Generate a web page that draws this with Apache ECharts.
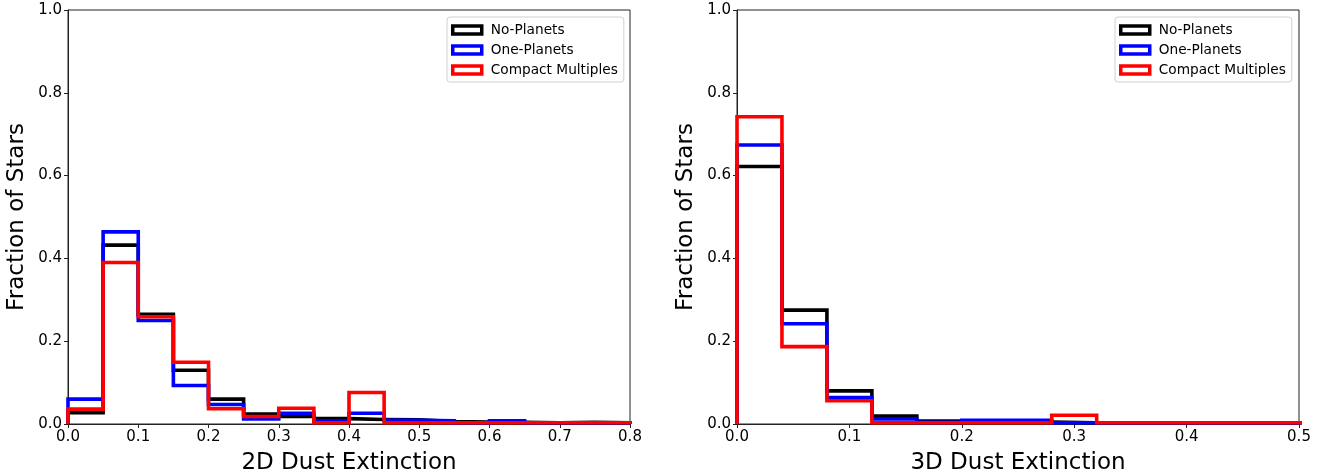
<!DOCTYPE html>
<html>
<head>
<meta charset="utf-8">
<script src="https://cdn.jsdelivr.net/npm/echarts@6/dist/echarts.min.js"></script>
<style>
html,body{margin:0;padding:0;background:#fff;}
#chart{width:1323px;height:474px;}
</style>
</head>
<body>
<div id="chart"></div>
<script>
// ---- Data ----
var seriesNames = ['No-Planets', 'One-Planets', 'Compact Multiples'];
var seriesColors = ['#000000', '#0000ff', '#ff0000'];

// 2D dust extinction: bin edges and fractions
var edges2D = [0, 0.05, 0.1, 0.15, 0.2, 0.25, 0.3, 0.35, 0.4, 0.45, 0.5, 0.55, 0.6, 0.65, 0.7, 0.75, 0.8];
var noPlanets2D = [0.027, 0.432, 0.265, 0.130, 0.060, 0.024, 0.018, 0.013, 0.011, 0.010, 0.006, 0.005, 0.004, 0.003, 0.004, 0.003];
var onePlanet2D = [0.060, 0.464, 0.250, 0.093, 0.047, 0.012, 0.026, 0.007, 0.026, 0.009, 0.008, 0.003, 0.008, 0.003, 0.003, 0.003];
var compact2D   = [0.036, 0.390, 0.259, 0.149, 0.037, 0.018, 0.038, 0.003, 0.076, 0.003, 0.003, 0.003, 0.003, 0.003, 0.003, 0.003];

// 3D dust extinction: bin edges and fractions
var edges3D = [0, 0.04, 0.08, 0.12, 0.16, 0.2, 0.24, 0.28, 0.32, 0.36, 0.4, 0.44, 0.48, 0.52];
var noPlanets3D = [0.622, 0.275, 0.080, 0.019, 0.007, 0.005, 0.005, 0.003, 0.003, 0.003, 0.003, 0.003, 0.003];
var onePlanet3D = [0.674, 0.242, 0.064, 0.012, 0.004, 0.009, 0.009, 0.003, 0.003, 0.003, 0.003, 0.003, 0.003];
var compact3D   = [0.742, 0.187, 0.056, 0.003, 0.003, 0.003, 0.003, 0.021, 0.003, 0.003, 0.003, 0.003, 0.003];

var xTicks2D = [0, 0.1, 0.2, 0.3, 0.4, 0.5, 0.6, 0.7, 0.8];
var xTicks3D = [0, 0.1, 0.2, 0.3, 0.4, 0.5];
var yTicks = [0, 0.2, 0.4, 0.6, 0.8, 1.0];

// ---- Build step outlines (matplotlib histtype='step') ----
function stepOutline(edges, vals) {
  var pts = [[edges[0], 0]];
  for (var i = 0; i < vals.length; i++) {
    pts.push([edges[i], vals[i]]);
    pts.push([edges[i + 1], vals[i]]);
  }
  pts.push([edges[vals.length], 0]);
  return pts;
}

var FONT = 'DejaVu Sans';
var fmt = function (v) { return v.toFixed(1); };

function xAxisCfg(idx, ticks, name) {
  return {
    type: 'value', gridIndex: idx, min: ticks[0], max: ticks[ticks.length - 1], interval: 0.1,
    name: name, nameLocation: 'middle', nameGap: 28,
    nameTextStyle: { fontSize: 23, fontFamily: FONT, color: '#000' },
    axisLine: { show: true, onZero: false, lineStyle: { color: '#222', width: 1 } },
    axisTick: { show: true, inside: false, length: 4, lineStyle: { color: '#222' } },
    axisLabel: { show: true, margin: 6, fontSize: 15, fontFamily: FONT, color: '#000', formatter: fmt },
    splitLine: { show: false }
  };
}
function yAxisCfg(idx) {
  return {
    type: 'value', gridIndex: idx, min: yTicks[0], max: yTicks[yTicks.length - 1], interval: 0.2,
    name: 'Fraction of Stars', nameLocation: 'middle', nameGap: 39,
    nameTextStyle: { fontSize: 23, fontFamily: FONT, color: '#000' },
    axisLine: { show: true, onZero: false, lineStyle: { color: '#222', width: 1 } },
    axisTick: { show: true, inside: false, length: 4, lineStyle: { color: '#222' } },
    axisLabel: { show: true, margin: 6, fontSize: 15, fontFamily: FONT, color: '#000', formatter: fmt },
    splitLine: { show: false }
  };
}

function legendCfg(left) {
  return {
    orient: 'vertical', left: left, top: 17,
    padding: [6, 6, 5, 4], itemGap: 6, itemWidth: 29, itemHeight: 8, icon: 'rect',
    backgroundColor: '#fff', borderColor: '#d0d0d0', borderWidth: 1, borderRadius: 3,
    textStyle: { fontSize: 13.7, fontFamily: FONT, color: '#000', padding: [0, 0, 0, 4] },
    data: seriesNames.map(function (n, i) {
      return { name: n, itemStyle: { color: '#fff', borderColor: seriesColors[i], borderWidth: 3.5 } };
    })
  };
}

var data2D = [noPlanets2D, onePlanet2D, compact2D];
var data3D = [noPlanets3D, onePlanet3D, compact3D];
var series = [];
[[edges2D, data2D, 0], [edges3D, data3D, 1]].forEach(function (g) {
  g[1].forEach(function (vals, i) {
    series.push({
      name: seriesNames[i], type: 'line', xAxisIndex: g[2], yAxisIndex: g[2],
      data: stepOutline(g[0], vals), symbol: 'none', showSymbol: false,
      lineStyle: { color: seriesColors[i], width: 3.6, join: 'miter' },
      itemStyle: { color: seriesColors[i] },
      z: 2 + i, animation: false, silent: true
    });
  });
});

var chart = echarts.init(document.getElementById('chart'), null, { renderer: 'canvas' });
chart.setOption({
  backgroundColor: '#fff',
  animation: false,
  grid: [
    { left: 68, top: 10, width: 562, height: 414, show: true, borderColor: '#222', borderWidth: 1, backgroundColor: 'transparent', outerBoundsMode: 'none', containLabel: false },
    { left: 737, top: 10, width: 562, height: 414, show: true, borderColor: '#222', borderWidth: 1, backgroundColor: 'transparent', outerBoundsMode: 'none', containLabel: false }
  ],
  xAxis: [xAxisCfg(0, xTicks2D, '2D Dust Extinction'), xAxisCfg(1, xTicks3D, '3D Dust Extinction')],
  yAxis: [yAxisCfg(0), yAxisCfg(1)],
  legend: [legendCfg(447), legendCfg(1115)],
  series: series
});
</script>
</body>
</html>
